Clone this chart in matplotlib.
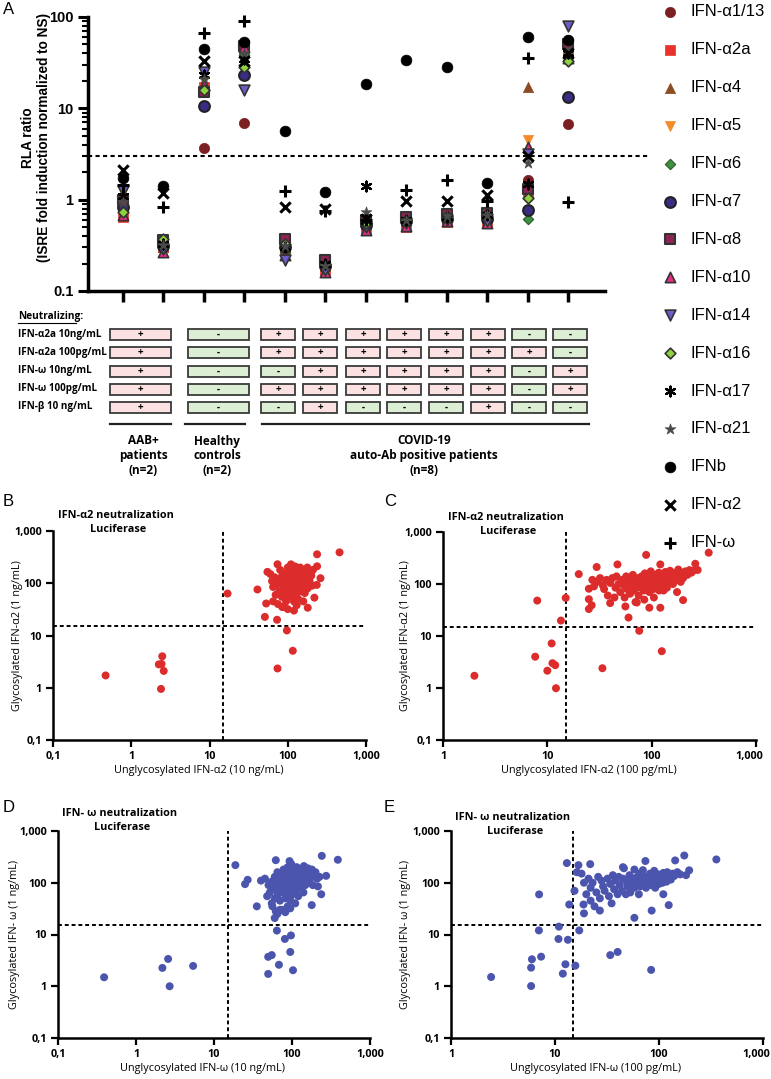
import numpy as np
import matplotlib.pyplot as plt
from matplotlib.patches import Rectangle
from matplotlib.ticker import NullFormatter, NullLocator
from matplotlib.transforms import ScaledTranslation

W, H = 771, 1079
plt.rcParams['font.family'] = ['Liberation Sans', 'DejaVu Sans']
OS = ['Open Sans', 'DejaVu Sans']


def box(l, t, r, b):
    # pixel box -> figure fraction
    return [l / W, 1 - b / H, (r - l) / W, (b - t) / H]


# ---------------- panel A data (RLA ratio per subject column) ----------------
cols = np.arange(1, 13)
threshold_a = 3
ifn_a1_13 = [0.9, 0.32, 3.7, 6.9, 0.3, 0.2, 0.55, 0.6, 0.65, 0.6, 1.65, 6.8]
ifn_a2a = [0.65, 0.3, 17, 45, 0.28, 0.17, 0.48, 0.5, 0.57, 0.58, 1.2, 40]
ifn_a4 = [1.0, 0.3, 19, 42, 0.3, 0.19, 0.55, 0.58, 0.65, 0.65, 17, 45]
ifn_a5 = [0.95, 0.31, 20, 44, 0.29, 0.2, 0.56, 0.6, 0.63, 0.62, 4.5, 42]
ifn_a6 = [0.8, 0.3, 16, 38, 0.27, 0.18, 0.52, 0.56, 0.6, 0.6, 0.62, 36]
ifn_a7 = [0.84, 0.31, 10.6, 23, 0.3, 0.19, 0.53, 0.58, 0.62, 0.62, 0.78, 13.4]
ifn_a8 = [1.0, 0.36, 15, 48, 0.37, 0.22, 0.6, 0.65, 0.7, 0.72, 1.3, 50]
ifn_a10 = [0.68, 0.27, 18, 47, 0.25, 0.16, 0.47, 0.52, 0.58, 0.55, 3.8, 36]
ifn_a14 = [1.23, 0.29, 25, 16, 0.22, 0.17, 0.5, 0.55, 0.6, 0.58, 3.2, 80]
ifn_a16 = [0.74, 0.37, 16, 28, 0.33, 0.2, 0.55, 0.6, 0.66, 0.7, 1.05, 33]
ifn_a17 = [1.1, 0.33, 23, 35, 0.3, 0.2, 1.4, 0.6, 0.65, 0.68, 1.5, 40]
ifn_a21 = [0.95, 0.32, 21, 40, 0.31, 0.19, 0.74, 0.6, 0.66, 0.68, 2.5, 45]
ifn_b = [1.74, 1.42, 45, 53, 5.7, 1.22, 18.5, 34, 28, 1.53, 60, 56]
ifn_a2 = [2.1, 1.19, 33, 33, 0.84, 0.8, 0.62, 0.97, 0.97, 1.13, 3.0, 40]
ifn_w = [1.46, 0.84, 66, 90, 1.25, 0.75, 0.6, 1.29, 1.65, 0.97, 36, 0.95]

series_names = ['IFN-α1/13', 'IFN-α2a', 'IFN-α4', 'IFN-α5', 'IFN-α6', 'IFN-α7',
                'IFN-α8', 'IFN-α10', 'IFN-α14', 'IFN-α16', 'IFN-α17', 'IFN-α21',
                'IFNb', 'IFN-α2', 'IFN-ω']
series_vals = [ifn_a1_13, ifn_a2a, ifn_a4, ifn_a5, ifn_a6, ifn_a7, ifn_a8, ifn_a10,
               ifn_a14, ifn_a16, ifn_a17, ifn_a21, ifn_b, ifn_a2, ifn_w]

styles = [
    dict(marker='o', s=55, facecolors='#7a1f22', edgecolors='#7a1f22', linewidths=0.5),
    dict(marker='s', s=45, facecolors='#e8332d', edgecolors='#e8332d', linewidths=0.5),
    dict(marker='^', s=55, facecolors='#8b4c22', edgecolors='#8b4c22', linewidths=0.5),
    dict(marker='v', s=55, facecolors='#f28c2a', edgecolors='#f28c2a', linewidths=0.5),
    dict(marker='D', s=28, facecolors='#3d9140', edgecolors='#2a5a2a', linewidths=0.8),
    dict(marker='o', s=60, facecolors='#3b2a86', edgecolors='#222222', linewidths=1.5),
    dict(marker='s', s=50, facecolors='#8e2354', edgecolors='#333333', linewidths=1.5),
    dict(marker='^', s=55, facecolors='#e52d85', edgecolors='#333333', linewidths=1.2),
    dict(marker='v', s=60, facecolors='#6b5bc4', edgecolors='#333333', linewidths=1.2),
    dict(marker='D', s=30, facecolors='#8fd13f', edgecolors='#333333', linewidths=1.2),
    dict(marker=(6, 2, 0), s=50, color='k', linewidths=1.6),
    dict(marker='*', s=65, facecolors='#4a4a4a', edgecolors='#4a4a4a', linewidths=0.5),
    dict(marker='o', s=60, facecolors='k', edgecolors='k', linewidths=0.5),
    dict(marker='x', s=55, color='k', linewidths=2.2),
    dict(marker='+', s=70, color='k', linewidths=2.2),
]

# neutralization table
row_labels = ['IFN-α2a 10ng/mL', 'IFN-α2a 100pg/mL', 'IFN-ω 10ng/mL',
              'IFN-ω 100pg/mL', 'IFN-β 10 ng/mL']
neut_aab = ['+', '+', '+', '+', '+']
neut_healthy = ['-', '-', '-', '-', '-']
neut_covid = [
    ['+', '+', '+', '+', '+', '+', '-', '-'],
    ['+', '+', '+', '+', '+', '+', '+', '-'],
    ['-', '+', '+', '+', '+', '+', '-', '+'],
    ['+', '+', '+', '+', '+', '+', '-', '+'],
    ['-', '+', '-', '-', '-', '+', '-', '-'],
]
groups = [['AAB+', 'patients', '(n=2)'],
          ['Healthy', 'controls', '(n=2)'],
          ['COVID-19', 'auto-Ab positive patients', '(n=8)']]

# ---------------- panels B-E data ----------------
cutoff = 15
panel_b = [(0.47, 1.72), (2.49, 4.0), (2.25, 2.8), (2.44, 2.85), (2.6, 2.1), (2.4, 0.95),
           (17, 63.5), (97.5, 12.5), (116, 5.1), (74, 2.34), (73, 20), (51, 22.7),
           (459, 390), (237, 358), (237, 211), (262, 125), (235, 93), (219, 53), (180, 34),
           (41, 76), (53, 41), (74, 231), (55, 165),
           (60, 150), (63, 110), (65, 85), (68, 130), (70, 60), (72, 95), (75, 40), (75, 120),
           (78, 70), (80, 180), (82, 100), (84, 55), (85, 140), (88, 80), (90, 35), (90, 110),
           (92, 65), (94, 160), (95, 45), (96, 90), (98, 125), (100, 75), (100, 200), (102, 105),
           (104, 55), (105, 140), (106, 88), (108, 170), (110, 62), (110, 115), (112, 95),
           (114, 190), (115, 130), (116, 70), (118, 150), (120, 100), (120, 45), (122, 85),
           (124, 210), (125, 120), (126, 60), (128, 160), (130, 95), (130, 135), (132, 75),
           (134, 180), (135, 110), (136, 50), (138, 145), (140, 90), (142, 120), (144, 200),
           (145, 70), (148, 160), (150, 105), (152, 130), (155, 85), (155, 180), (158, 45),
           (160, 140), (162, 110), (165, 65), (168, 170), (170, 120), (172, 95), (175, 150),
           (178, 200), (180, 80), (185, 130), (190, 110), (195, 160), (200, 140), (205, 90),
           (210, 180), (85, 35), (100, 32), (120, 30), (130, 38), (70, 105), (65, 45),
           (95, 150), (110, 230), (125, 185)]

panel_c = [(2.0, 1.72), (8.0, 48), (7.65, 4.0), (10, 2.15), (11, 7.2), (11.2, 3.0),
           (11.9, 2.75), (12.1, 0.99), (13.5, 19.8), (15, 54), (33.7, 2.4), (76, 12.6),
           (125, 5.1), (352, 400), (88.5, 363), (20, 155), (29.7, 212), (47, 238),
           (262, 245), (276, 186), (200, 49), (175, 70), (121, 238), (60, 22.6),
           (25, 81), (25, 51), (25, 33), (26.6, 39), (40, 43), (56, 37), (72, 44), (95, 35),
           (121, 35),
           (27, 120), (28, 90), (30, 110), (32, 130), (34, 95), (35, 80), (37, 120), (38, 60),
           (40, 105), (42, 130), (44, 55), (45, 85), (46, 140), (48, 100), (50, 70), (52, 120),
           (54, 95), (55, 55), (57, 140), (58, 80), (60, 105), (62, 65), (63, 125), (65, 90),
           (66, 150), (68, 75), (70, 110), (72, 95), (74, 130), (75, 60), (77, 100), (78, 85),
           (80, 140), (82, 115), (84, 75), (85, 95), (86, 160), (88, 125), (90, 85), (92, 105),
           (94, 140), (95, 70), (97, 115), (98, 175), (100, 95), (102, 130), (104, 80),
           (106, 110), (108, 150), (110, 90), (112, 120), (115, 100), (117, 165), (118, 75),
           (120, 135), (123, 110), (125, 90), (128, 145), (130, 120), (133, 100), (135, 170),
           (138, 130), (140, 85), (143, 115), (145, 150), (148, 105), (150, 180), (155, 125),
           (158, 140), (160, 100), (165, 160), (170, 130), (175, 120), (180, 190), (185, 145),
           (190, 110), (195, 160), (200, 130), (210, 175), (220, 150), (230, 185), (240, 165),
           (250, 180), (70, 45), (85, 50), (105, 55), (130, 75)]

panel_d = [(0.39, 1.49), (2.18, 2.26), (2.58, 3.37), (2.7, 1.0), (5.4, 2.47),
           (18.8, 219), (25, 94), (35.4, 35), (60, 20.8), (64, 11.9), (81, 8.2), (97, 9.6),
           (95, 4.6), (49.5, 3.7), (55, 4.0), (68, 2.6), (49.5, 1.73), (103, 2.04),
           (241, 331), (387, 278), (274, 136), (237, 60), (179, 37), (62, 273), (93, 262),
           (27, 114),
           (40, 110), (45, 120), (48, 55), (50, 90), (52, 65), (55, 40), (55, 105), (58, 75),
           (60, 130), (60, 50), (62, 28), (63, 95), (65, 160), (66, 60), (68, 115), (70, 80),
           (70, 45), (72, 140), (74, 100), (75, 30), (76, 65), (78, 180), (80, 120), (80, 88),
           (82, 50), (84, 140), (85, 70), (86, 100), (88, 200), (88, 35), (90, 125), (90, 60),
           (92, 85), (94, 160), (95, 110), (96, 45), (98, 230), (98, 75), (100, 140), (100, 95),
           (102, 60), (104, 120), (105, 180), (106, 85), (108, 150), (110, 105), (112, 70),
           (114, 130), (115, 200), (118, 95), (120, 160), (120, 55), (123, 115), (125, 140),
           (128, 80), (130, 180), (132, 120), (135, 100), (138, 150), (140, 65), (142, 210),
           (145, 130), (148, 90), (150, 170), (155, 115), (158, 140), (160, 190), (165, 100),
           (170, 150), (175, 125), (180, 180), (185, 90), (190, 140), (200, 160), (210, 120),
           (215, 85), (225, 130), (56, 35), (70, 30), (82, 27), (95, 32), (110, 40), (65, 25)]

panel_e = [(2.43, 1.51), (5.89, 1.01), (5.89, 2.29), (6.0, 3.32), (7.35, 3.73), (7.03, 59.5),
           (7.0, 12), (10.9, 14.2), (10.8, 8.2), (13.3, 7.9), (12.6, 2.66), (11.9, 1.75),
           (15.7, 2.5), (17.1, 12), (13, 240), (13.7, 38), (15.4, 70), (34, 4.0), (40, 4.6),
           (84, 2.07), (58, 21), (356, 282), (175, 336), (195, 174), (182, 140), (143, 270),
           (124, 37), (110, 60), (85, 29), (74, 263), (21.8, 229), (16.8, 219), (16.2, 160),
           (18.8, 38), (19, 25.6), (27, 29),
           (18, 150), (19, 100), (20, 60), (21, 120), (22, 80), (22, 45), (23, 100), (24, 35),
           (25, 65), (26, 130), (27, 50), (28, 110), (29, 85), (30, 70), (32, 120), (33, 55),
           (34, 95), (35, 40), (36, 140), (37, 75), (38, 110), (40, 60), (41, 130), (42, 90),
           (44, 70), (45, 120), (46, 190), (48, 60), (49, 105), (50, 85), (52, 140), (53, 65),
           (55, 110), (56, 95), (58, 80), (60, 125), (62, 100), (64, 60), (65, 150), (66, 85),
           (68, 110), (70, 175), (72, 95), (73, 130), (75, 80), (78, 115), (80, 100), (82, 150),
           (84, 90), (86, 120), (88, 105), (90, 170), (92, 80), (94, 130), (96, 110), (98, 145),
           (100, 95), (102, 120), (105, 135), (108, 100), (110, 155), (112, 115), (115, 140),
           (118, 105), (120, 160), (125, 125), (130, 115), (135, 150), (140, 135), (150, 160),
           (160, 145), (45, 200), (58, 180)]

# ---------------- figure ----------------
fig = plt.figure(figsize=(W / 100, H / 100), dpi=100)
ov = fig.add_axes([0, 0, 1, 1])
ov.set_xlim(0, W)
ov.set_ylim(H, 0)
ov.axis('off')

# panel letters
for letter, (px, py) in zip('ABCDE', [(3, 9), (3, 501), (384, 501), (3, 808), (384, 808)]):
    ov.text(px, py, letter, fontsize=12, ha='left', va='center')

# ---- panel A
axA = fig.add_axes(box(88, 17, 605, 291))
axA.patch.set_visible(False)
for vals, st in zip(series_vals, styles):
    axA.scatter(cols, vals, zorder=3, clip_on=False, **st)
axA.set_yscale('log')
axA.set_ylim(0.1, 100)
axA.set_xlim(1 - 35 / 40.45, 12 + 37 / 40.45)
axA.axhline(threshold_a, xmin=0, xmax=1.083, color='k', ls=(0, (2, 1.6)), lw=1.5, clip_on=False)
axA.spines[['top', 'right']].set_visible(False)
for sp in ['left', 'bottom']:
    axA.spines[sp].set_linewidth(2.5)
axA.set_xticks(cols)
axA.set_xticklabels([])
axA.tick_params(axis='x', length=8, width=2.5)
axA.set_yticks([0.1, 1, 10, 100])
axA.set_yticklabels(['0.1', '1', '10', '100'], fontweight='bold')
axA.yaxis.set_minor_formatter(NullFormatter())
axA.tick_params(axis='y', which='major', length=7, width=2.2, labelsize=10.5)
axA.tick_params(axis='y', which='minor', length=4, width=1.5)
axA.set_ylabel('RLA ratio\n(ISRE fold induction normalized to NS)', fontsize=9.8,
               fontweight='bold', linespacing=1.2)
axA.yaxis.set_label_coords(-37 / 517, 0.56)

# legend (right side)
for i, (name, st) in enumerate(zip(series_names, styles)):
    yy = 12 + 37.9 * i
    ov.scatter([670], [yy], zorder=5, **st)
    ov.text(690, yy, name, fontsize=12, va='center', ha='left', zorder=5)

# ---- neutralization table
ov.text(18, 317, 'Neutralizing:', fontsize=7.3, family=OS, fontweight='bold', va='center')
ov.plot([18, 76], [323, 323], color='k', lw=0.8)
row_y = [334, 352, 371, 389, 407]
covid_centers = [278, 320, 363, 404, 446, 488, 529, 570]
spans = [(110, 171), (188, 249)] + [(c - 17, c + 17) for c in covid_centers]
for r, lab in enumerate(row_labels):
    y = row_y[r]
    ov.text(18, y, lab, fontsize=7.1, family=OS, fontweight='bold', va='center', ha='left')
    signs = [neut_aab[r], neut_healthy[r]] + neut_covid[r]
    for (x0, x1), sgn in zip(spans, signs):
        fc = '#fbe1e1' if sgn == '+' else '#dcefd4'
        ov.add_patch(Rectangle((x0, y - 5.5), x1 - x0, 11, facecolor=fc,
                               edgecolor='#3a3a3a', lw=1.3))
        ov.text((x0 + x1) / 2, y + 0.5, sgn, fontsize=7, family=OS, fontweight='bold',
                ha='center', va='center')

group_spans = [(110, 171), (185, 245), (262, 589)]
group_cx = [143, 217, 424]
for (x0, x1), cx, lines in zip(group_spans, group_cx, groups):
    ov.plot([x0, x1], [424, 424], color='#222222', lw=1.6)
    for k, txt in enumerate(lines):
        ov.text(cx, 441 + 14.5 * k, txt, fontsize=8.5, family=OS, fontweight='bold',
                ha='center', va='center')


# ---- panels B-E
def scatter_panel(rect, pts, color, xlo, xlabel, ylabel, title_xy):
    l, t, r, b = rect
    ax = fig.add_axes(box(l, t, r, b))
    ax.patch.set_visible(False)
    x, y = np.array(pts).T
    ax.scatter(x, y, s=33, color=color, edgecolors='none', zorder=3, clip_on=False)
    ax.set_xscale('log')
    ax.set_yscale('log')
    ax.set_xlim(xlo, 1000)
    ax.set_ylim(0.1, 1000)
    ax.axvline(cutoff, color='k', ls=(0, (2, 1.5)), lw=1.4)
    ax.axhline(cutoff, color='k', ls=(0, (2, 1.5)), lw=1.4)
    ax.spines[['top', 'right']].set_visible(False)
    for sp in ['left', 'bottom']:
        ax.spines[sp].set_linewidth(1.8)
    xt = [0.1, 1, 10, 100, 1000] if xlo < 1 else [1, 10, 100, 1000]
    lab = {0.1: '0,1', 1: '1', 10: '10', 100: '100', 1000: '1,000'}
    ax.set_xticks(xt)
    ax.set_xticklabels([lab[v] for v in xt], family=OS, fontweight='bold')
    ax.set_yticks([0.1, 1, 10, 100, 1000])
    ax.set_yticklabels([lab[v] for v in [0.1, 1, 10, 100, 1000]], family=OS, fontweight='bold')
    ax.xaxis.set_minor_locator(NullLocator())
    ax.yaxis.set_minor_locator(NullLocator())
    ax.tick_params(length=5, width=1.6, labelsize=7.8, pad=3)
    if xlo >= 1:
        # last label is nudged left so it stays inside the figure
        last = ax.get_xticklabels()[-1]
        last.set_transform(last.get_transform() + ScaledTranslation(-0.07, 0, fig.dpi_scale_trans))
    ax.set_xlabel(xlabel, fontsize=7.8, family=OS)
    ax.xaxis.set_label_coords(0.5 - 11 / (r - l), -25 / (b - t))
    ax.set_ylabel(ylabel, fontsize=7.8, family=OS)
    ax.yaxis.set_label_coords(-(l - title_xy[2]) / (r - l), 0.5)
    ov.text(title_xy[0], title_xy[1], title_xy[3], fontsize=7.8, family=OS,
            fontweight='bold', ha='center', va='center')
    ov.text(title_xy[0] + 2, title_xy[1] + 14, 'Luciferase', fontsize=7.8, family=OS,
            fontweight='bold', ha='center', va='center')
    return ax


red = '#dc2c2c'
blue = '#4b55ad'
scatter_panel((53, 531, 366, 740), panel_b, red, 0.1, 'Unglycosylated IFN-α2 (10 ng/mL)',
              'Glycosylated IFN-α2 (1 ng/mL)', (116, 516, 23, 'IFN-α2 neutralization'))
scatter_panel((443, 532, 756, 740), panel_c, red, 1, 'Unglycosylated IFN-α2 (100 pg/mL)',
              'Glycosylated IFN-α2 (1 ng/mL)', (506, 518, 411, 'IFN-α2 neutralization'))
scatter_panel((58, 831, 370, 1038), panel_d, blue, 0.1, 'Unglycosylated IFN-ω (10 ng/mL)',
              'Glycosylated IFN- ω (1 ng/mL)', (120, 814, 20, 'IFN- ω neutralization'))
scatter_panel((451, 831, 763, 1038), panel_e, blue, 1, 'Unglycosylated IFN-ω (100 pg/mL)',
              'Glycosylated IFN- ω (1 ng/mL)', (513, 817, 411, 'IFN- ω neutralization'))

fig.savefig('out.png', dpi=100)
